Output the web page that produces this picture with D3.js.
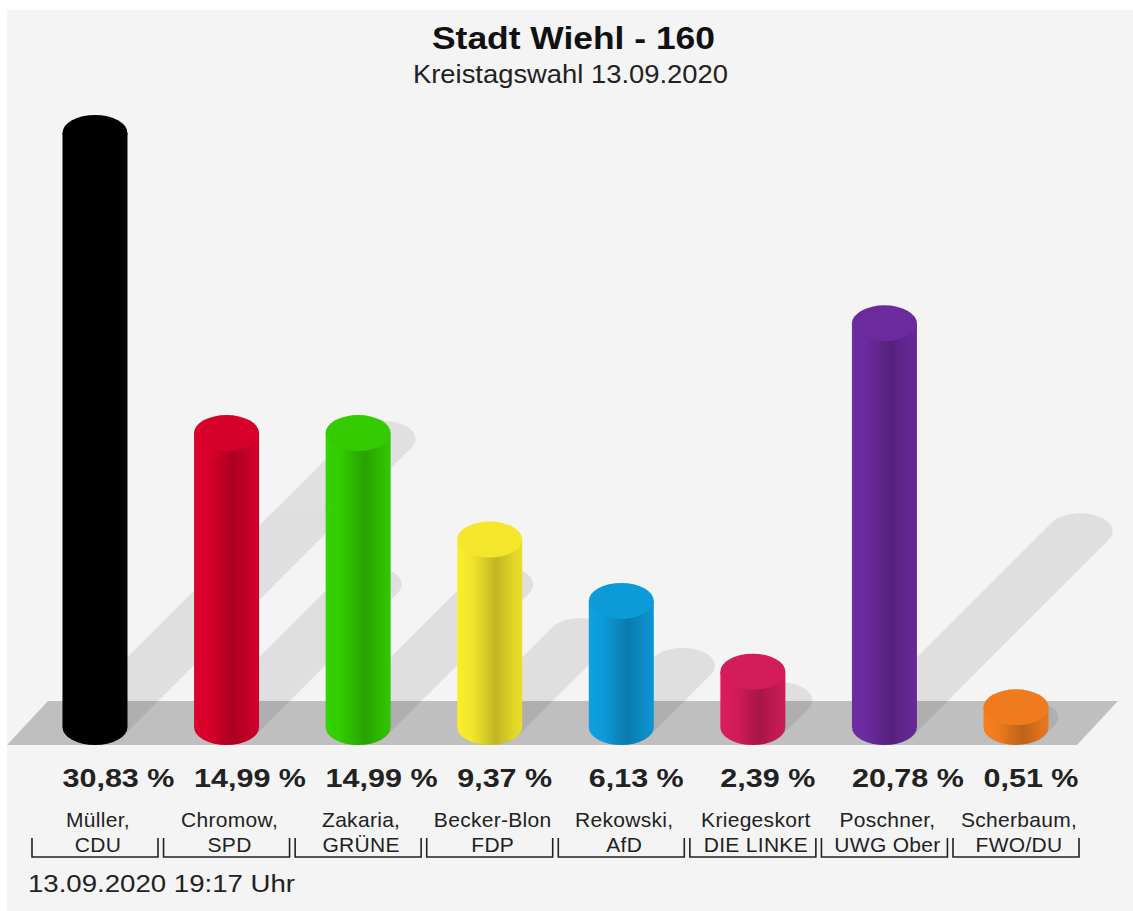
<!DOCTYPE html>
<html><head><meta charset="utf-8">
<script src="https://cdn.jsdelivr.net/npm/d3@7"></script>
<style>html,body{margin:0;padding:0;background:#fff;}svg{display:block;}</style>
</head><body>
<svg id="chart" width="1133" height="911"></svg>
<script>
const titleText = "Stadt Wiehl - 160";
const subtitleText = "Kreistagswahl 13.09.2020";
const dateText = "13.09.2020 19:17 Uhr";
const candidates = ["Müller,", "Chromow,", "Zakaria,", "Becker-Blon", "Rekowski,", "Kriegeskort", "Poschner,", "Scherbaum,"];
const parties = ["CDU", "SPD", "GRÜNE", "FDP", "AfD", "DIE LINKE", "UWG Ober", "FWO/DU"];
const values = [30.83, 14.99, 14.99, 9.37, 6.13, 2.39, 20.78, 0.51];
const colors = ["#000000", "#d7002a", "#33cc00", "#f3e62b", "#0d9ad9", "#d31c59", "#6b2a9d", "#ef7b1e"];

const svg = d3.select("#chart");
const FONT = "'Liberation Sans', Arial, Helvetica, sans-serif";

// background panel
svg.append("rect").attr("x", 7).attr("y", 10).attr("width", 1126).attr("height", 901).attr("fill", "#f4f4f4");

const x = d3.scaleBand().domain(d3.range(values.length)).range([29.2, 1081.8]).padding(0);
const y = d3.scaleLinear().domain([0, 30.83]).range([717, 133]);
const cxOf = i => x(i) + x.bandwidth() / 2;
const rx = 32.5, ry = 18, baseY = 727;

// floor
svg.append("path")
  .attr("d", `M7,745 L48,701 L1118,701 L1077,745 Z`)
  .attr("fill", "#bfbfbf");

// shadows
const shadowG = svg.append("g").attr("opacity", 0.08);
values.forEach((v, i) => {
  const cx = cxOf(i);
  const h = baseY - y(v);
  const dx = 0.485 * h, dy = 0.485 * h;
  const pts = [];
  for (let a = 0; a < 360; a += 6) {
    const t = a * Math.PI / 180;
    pts.push([cx + rx * Math.cos(t), baseY + ry * Math.sin(t)]);
    pts.push([cx + dx + rx * Math.cos(t), baseY - dy + ry * Math.sin(t)]);
  }
  const hull = d3.polygonHull(pts);
  shadowG.append("path").attr("d", "M" + hull.join("L") + "Z").attr("fill", "#000");
});

// gradients
const defs = svg.append("defs");
colors.forEach((c, i) => {
  const g = defs.append("linearGradient").attr("id", "grad" + i)
    .attr("x1", 0).attr("x2", 1).attr("y1", 0).attr("y2", 0);
  const base = d3.rgb(c);
  [[0, base.brighter(0.1)], [0.22, base], [0.6, base.darker(0.65)], [0.88, base.darker(0.2)], [1, base.darker(0.1)]]
    .forEach(([o, col]) => g.append("stop").attr("offset", o).attr("stop-color", col.formatHex()));
});

// bars (cylinders)
values.forEach((v, i) => {
  const cx = cxOf(i);
  const yt = y(v);
  svg.append("path")
    .attr("d", `M${cx - rx},${yt} L${cx - rx},${baseY} A${rx},${ry} 0 0 0 ${cx + rx},${baseY} L${cx + rx},${yt} Z`)
    .attr("fill", `url(#grad${i})`);
  svg.append("ellipse").attr("cx", cx).attr("cy", yt).attr("rx", rx).attr("ry", ry)
    .attr("fill", colors[i]);
});

// title
svg.append("text").attr("x", 573.5).attr("y", 49).attr("text-anchor", "middle")
  .attr("font-family", FONT).attr("font-weight", "bold").attr("font-size", 31)
  .attr("textLength", 283).attr("lengthAdjust", "spacingAndGlyphs").attr("fill", "#111")
  .text(titleText);
svg.append("text").attr("x", 570.5).attr("y", 83).attr("text-anchor", "middle")
  .attr("font-family", FONT).attr("font-size", 25)
  .attr("textLength", 315).attr("lengthAdjust", "spacingAndGlyphs").attr("fill", "#222")
  .text(subtitleText);

// value labels
const fmt = d3.format(".2f");
values.forEach((v, i) => {
  const t = svg.append("text").attr("x", cxOf(i) - rx).attr("y", 787)
    .attr("font-family", FONT).attr("font-weight", "bold").attr("font-size", 25).attr("fill", "#222")
    .text(fmt(v).replace(".", ",") + " %");
  const w = t.node().getComputedTextLength();
  t.attr("textLength", w * 1.22).attr("lengthAdjust", "spacingAndGlyphs");
});

// candidate / party labels
candidates.forEach((c, i) => {
  const cx = cxOf(i) + 3;
  svg.append("text").attr("x", cx).attr("y", 827).attr("text-anchor", "middle")
    .attr("font-family", FONT).attr("font-size", 21).attr("letter-spacing", 0.3).attr("fill", "#222").text(c);
  svg.append("text").attr("x", cx).attr("y", 852).attr("text-anchor", "middle")
    .attr("font-family", FONT).attr("font-size", 21).attr("letter-spacing", 0.3).attr("fill", "#222").text(parties[i]);
  const x0 = cxOf(i) - 63, x1 = cxOf(i) + 63;
  svg.append("path").attr("d", `M${x0},838 L${x0},857 L${x1},857 L${x1},838`)
    .attr("fill", "none").attr("stroke", "#222").attr("stroke-width", 1.6);
});

// date
svg.append("text").attr("x", 28).attr("y", 892)
  .attr("font-family", FONT).attr("font-size", 23.5)
  .attr("textLength", 267).attr("lengthAdjust", "spacingAndGlyphs").attr("fill", "#222")
  .text(dateText);
</script>
</body></html>
